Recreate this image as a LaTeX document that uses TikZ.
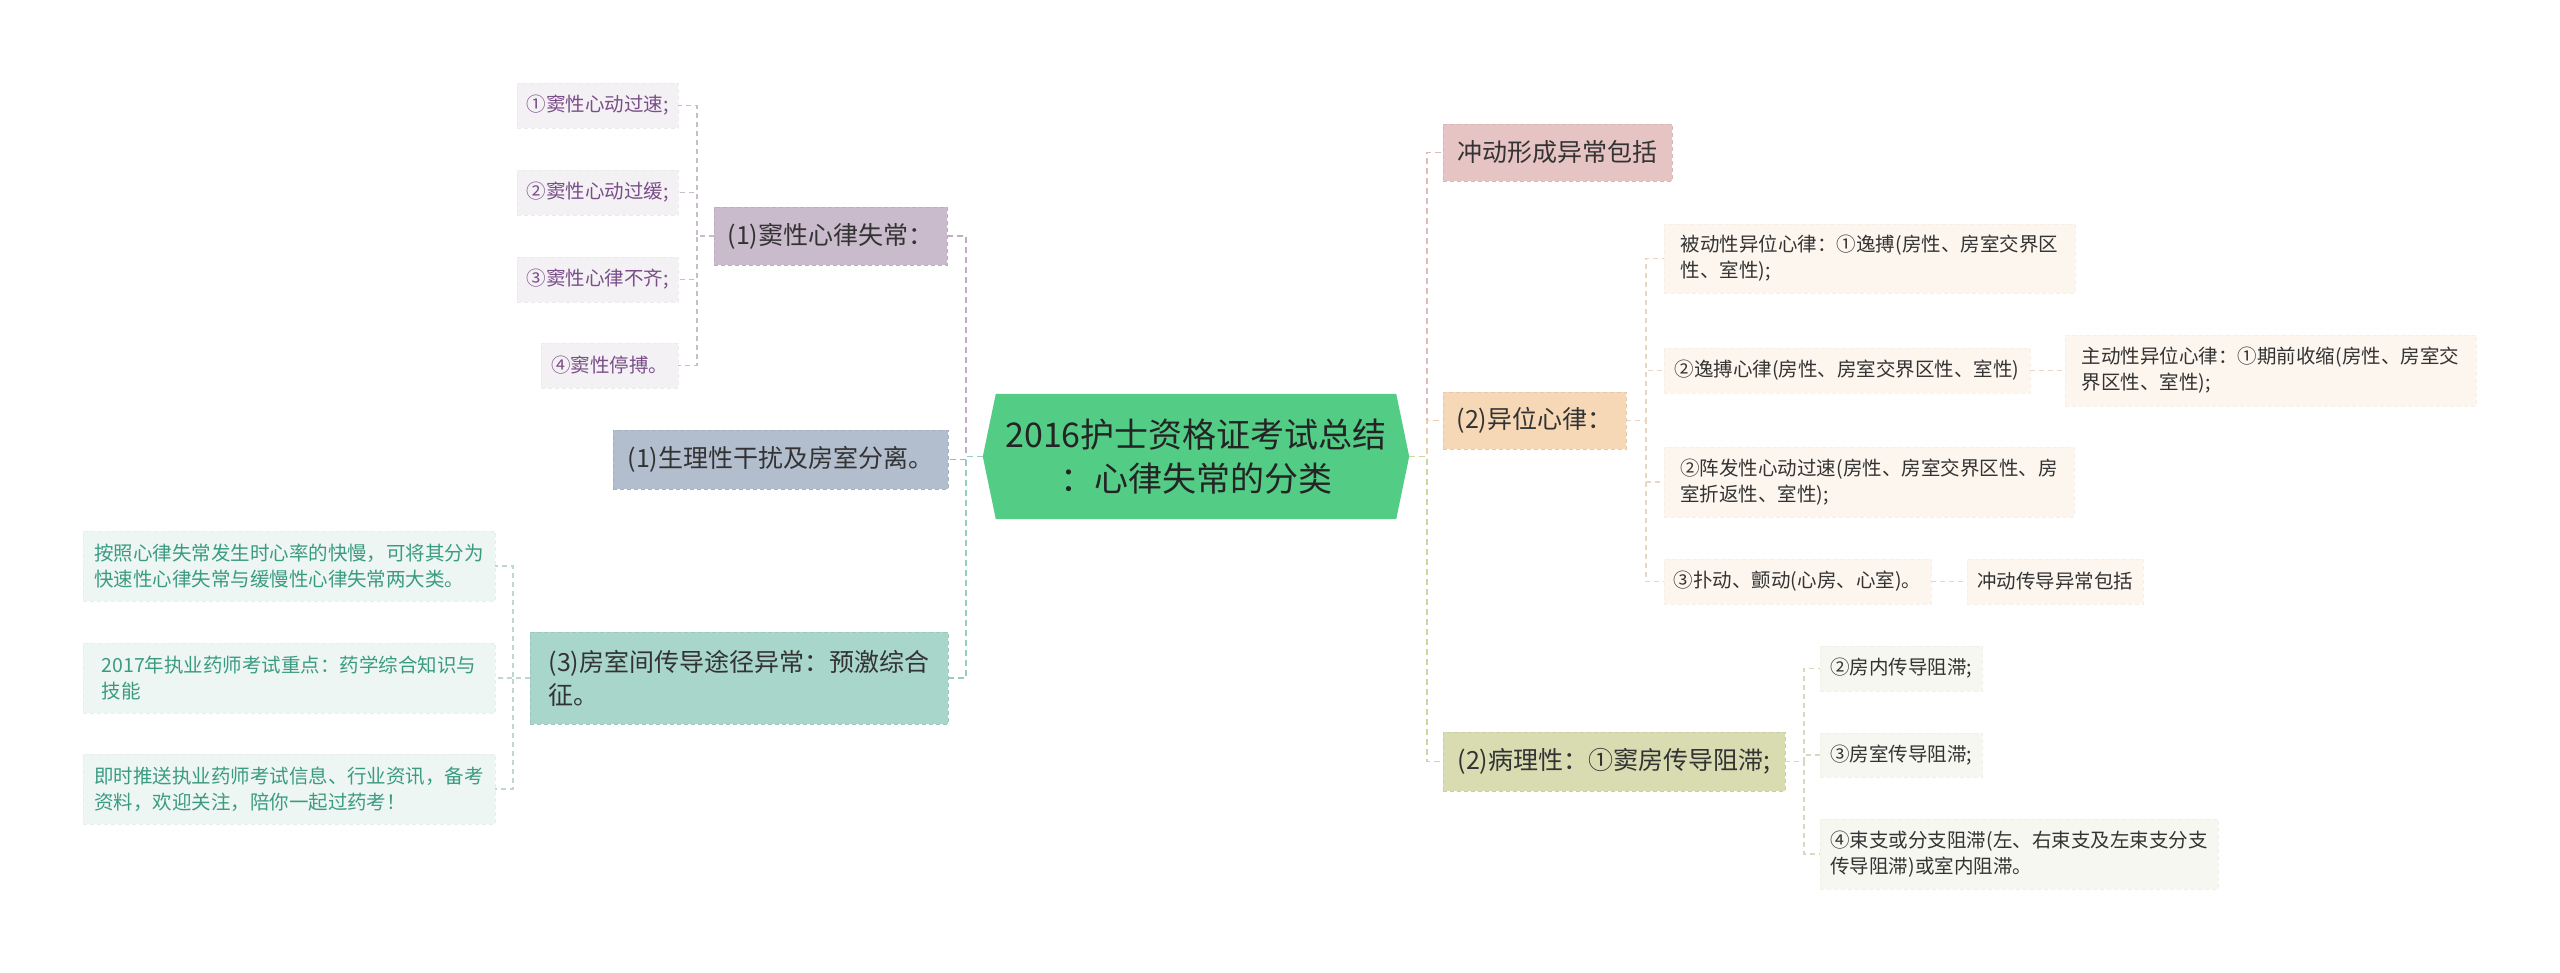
\documentclass[tikz,border=0pt]{standalone}
\usepackage{fontspec}
\setmainfont{Noto Sans CJK SC}
\usepackage{tikz}
\usetikzlibrary{backgrounds}
\definecolor{RootGreen}{RGB}{83,204,134}
\definecolor{InkGray}{RGB}{51,51,51}
\definecolor{SinusFill}{RGB}{201,186,204}
\definecolor{SinusLeaf}{RGB}{244,241,244}
\definecolor{SinusText}{RGB}{122,78,137}
\definecolor{SinusLine}{RGB}{190,172,194}
\definecolor{SinusSub}{RGB}{200,190,202}
\definecolor{PhysFill}{RGB}{178,190,206}
\definecolor{PhysLine}{RGB}{164,178,196}
\definecolor{PreFill}{RGB}{168,214,203}
\definecolor{PreLeaf}{RGB}{238,246,244}
\definecolor{PreText}{RGB}{59,155,129}
\definecolor{PreLine}{RGB}{150,205,193}
\definecolor{PreSub}{RGB}{190,215,208}
\definecolor{ImpFill}{RGB}{231,196,196}
\definecolor{ImpLine}{RGB}{226,186,188}
\definecolor{EctFill}{RGB}{246,216,183}
\definecolor{EctLeaf}{RGB}{253,246,238}
\definecolor{EctLine}{RGB}{238,205,170}
\definecolor{EctSub}{RGB}{232,214,192}
\definecolor{PathFill}{RGB}{217,220,177}
\definecolor{PathLeaf}{RGB}{246,247,240}
\definecolor{PathLine}{RGB}{208,212,160}
\definecolor{PathSub}{RGB}{214,217,190}

\begin{document}
\begin{tikzpicture}[x=1pt, y=-1pt,
    topic/.style={fill=#1, draw=#1!93!black, dash pattern=on 4pt off 3pt, line width=0.8pt,
        text=InkGray, font=\fontsize{25}{33}\selectfont, align=left, inner xsep=10pt, inner ysep=0pt},
    leaf/.style={fill=#1, draw=#1!97!black, dash pattern=on 4pt off 3pt, line width=0.6pt,
        text=InkGray, font=\fontsize{19.5}{26}\selectfont, align=left, inner xsep=8pt, inner ysep=0pt},
    link/.style={#1, dash pattern=on 6pt off 4pt, line width=1.8pt},
    sublink/.style={#1, dash pattern=on 5pt off 4pt, line width=1.2pt}]

    % Canvas
    \begin{scope}[on background layer]
        \fill [white] (0,0) rectangle (2560,973);
    \end{scope}
    \useasboundingbox (0,0) rectangle (2560,973);

    % Root
    \node [minimum width=426pt, minimum height=125pt, inner sep=0pt, align=center,
        font=\fontsize{34}{44}\selectfont, text=InkGray!70!black] (root) at (1196,456.5)
        {2016护士资格证考试总结\\：心律失常的分类};
    \begin{scope}[on background layer]
        \fill [RootGreen] (root.west) -- ([xshift=13pt]root.north west) -- ([xshift=-13pt]root.north east)
            -- (root.east) -- ([xshift=-13pt]root.south east) -- ([xshift=13pt]root.south west) -- cycle;
    \end{scope}

    % Left branches
    \node [topic=SinusFill, minimum width=233pt, minimum height=58pt] (sinus) at (830.5,236) {(1)窦性心律失常：};
    \node [leaf=SinusLeaf, text=SinusText, minimum width=161pt, minimum height=45pt] (s1) at (597.5,105.5) {①窦性心动过速;};
    \node [leaf=SinusLeaf, text=SinusText, minimum width=161pt, minimum height=45pt] (s2) at (597.5,192.5) {②窦性心动过缓;};
    \node [leaf=SinusLeaf, text=SinusText, minimum width=161pt, minimum height=45pt] (s3) at (597.5,279.5) {③窦性心律不齐;};
    \node [leaf=SinusLeaf, text=SinusText, minimum width=137pt, minimum height=45pt] (s4) at (609.5,365.5) {④窦性停搏。};

    \node [topic=PhysFill, minimum width=335pt, minimum height=59pt] (physio) at (780.5,459.5) {(1)生理性干扰及房室分离。};

    \node [topic=PreFill, minimum width=418pt, minimum height=92pt] (preexc) at (739,678) {(3)房室间传导途径异常：预激综合\\征。};
    \node [leaf=PreLeaf, text=PreText, minimum width=412pt, minimum height=70pt] (p1) at (289,566)
        {按照心律失常发生时心率的快慢，可将其分为\\快速性心律失常与缓慢性心律失常两大类。};
    \node [leaf=PreLeaf, text=PreText, minimum width=412pt, minimum height=70pt] (p2) at (289,678)
        {2017年执业药师考试重点：药学综合知识与\\技能};
    \node [leaf=PreLeaf, text=PreText, minimum width=412pt, minimum height=70pt] (p3) at (289,789)
        {即时推送执业药师考试信息、行业资讯，备考\\资料，欢迎关注，陪你一起过药考！};

    % Right branches
    \node [topic=ImpFill, minimum width=229pt, minimum height=57pt] (impulse) at (1557.5,152.5) {冲动形成异常包括};
    \node [topic=EctFill, minimum width=183pt, minimum height=57pt] (ectopic) at (1534.5,420.5) {(2)异位心律：};
    \node [topic=PathFill, minimum width=342pt, minimum height=59pt] (patho) at (1614,761.5) {(2)病理性：①窦房传导阻滞;};

    \node [leaf=EctLeaf, minimum width=411pt, minimum height=69pt] (passive) at (1869.5,258.5)
        {被动性异位心律：①逸搏(房性、房室交界区\\性、室性);};
    \node [leaf=EctLeaf, minimum width=366pt, minimum height=45pt] (escape) at (1847,370.5)
        {②逸搏心律(房性、房室交界区性、室性)};
    \node [leaf=EctLeaf, minimum width=411pt, minimum height=71pt] (active) at (2270.5,370.5)
        {主动性异位心律：①期前收缩(房性、房室交\\界区性、室性);};
    \node [leaf=EctLeaf, minimum width=410pt, minimum height=70pt] (tachy) at (1869,482)
        {②阵发性心动过速(房性、房室交界区性、房\\室折返性、室性);};
    \node [leaf=EctLeaf, minimum width=267pt, minimum height=45pt] (flutter) at (1797.5,581.5)
        {③扑动、颤动(心房、心室)。};
    \node [leaf=EctLeaf, minimum width=176pt, minimum height=45pt] (conduct) at (2055,581.5) {冲动传导异常包括};

    \node [leaf=PathLeaf, minimum width=162pt, minimum height=45pt] (atrial) at (1901,668.5) {②房内传导阻滞;};
    \node [leaf=PathLeaf, minimum width=162pt, minimum height=44pt] (avblock) at (1901,755) {③房室传导阻滞;};
    \node [leaf=PathLeaf, minimum width=398pt, minimum height=70pt] (bundle) at (2019,854)
        {④束支或分支阻滞(左、右束支及左束支分支\\传导阻滞)或室内阻滞。};

    % Bus points
    \coordinate (lbus) at (966,456.5);
    \coordinate (sbus) at (697,236);
    \coordinate (pbus) at (513,678);
    \coordinate (rbus) at (1427,456.5);
    \coordinate (ebus) at (1646,420.5);
    \coordinate (tbus) at (1804,761.5);

    % Links
    \draw [link=SinusLine] (root.west) -- (lbus) |- (sinus.east);
    \draw [link=PhysLine] (root.west) -- (lbus) |- (physio.east);
    \draw [link=PreLine] (root.west) -- (lbus) |- (preexc.east);
    \foreach \leafname in {s1,s2,s3,s4}
        \draw [sublink=SinusSub] (sinus.west) -- (sbus) |- (\leafname.east);
    \foreach \leafname in {p1,p2,p3}
        \draw [sublink=PreSub] (preexc.west) -- (pbus) |- (\leafname.east);

    \draw [link=ImpLine] (root.east) -- (rbus) |- (impulse.west);
    \draw [link=EctLine] (root.east) -- (rbus) |- (ectopic.west);
    \draw [link=PathLine] (root.east) -- (rbus) |- (patho.west);
    \foreach \leafname in {passive,escape,tachy,flutter}
        \draw [sublink=EctSub] (ectopic.east) -- (ebus) |- (\leafname.west);
    \draw [sublink=EctSub] (escape.east) -- (active.west);
    \draw [sublink=EctSub] (flutter.east) -- (conduct.west);
    \foreach \leafname in {atrial,avblock,bundle}
        \draw [sublink=PathSub] (patho.east) -- (tbus) |- (\leafname.west);
\end{tikzpicture}
\end{document}
